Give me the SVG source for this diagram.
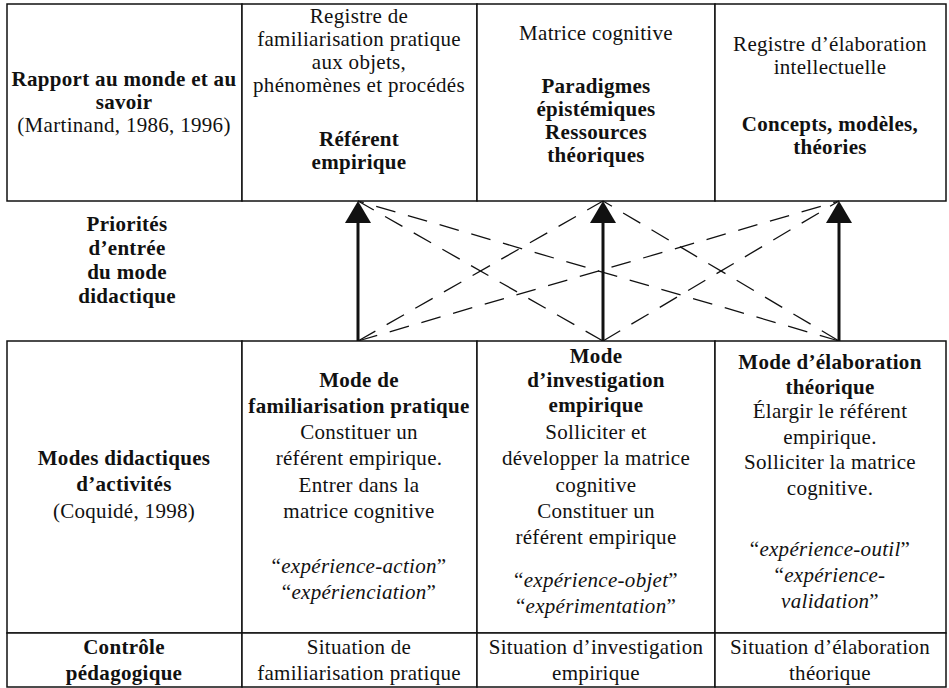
<svg xmlns="http://www.w3.org/2000/svg" width="949" height="688" viewBox="0 0 949 688">
<style>
text{font-family:"Liberation Serif","Times New Roman",serif;font-size:21px;letter-spacing:0.3px;fill:#111;text-anchor:middle}
.b{font-weight:bold}
.i{font-style:italic}
.cell{fill:#fff;stroke:#111;stroke-width:1.5}
.solid{stroke:#111;stroke-width:3;fill:none}
.dash{stroke:#111;stroke-width:1.3;fill:none;stroke-dasharray:20 13}
.head{fill:#111}
</style>
<rect width="949" height="688" fill="#fff"/>

<g id="top-table">
<rect class="cell" x="7" y="4" width="235" height="197"/>
<rect class="cell" x="242" y="4" width="235" height="197"/>
<rect class="cell" x="477" y="4" width="238" height="197"/>
<rect class="cell" x="715" y="4" width="231" height="197"/>
</g>

<g id="rapport">
<text class="b" x="124" y="86">Rapport au monde et au</text>
<text class="b" x="124" y="109">savoir</text>
<text x="124" y="132">(Martinand, 1986, 1996)</text>
</g>

<g id="referent">
<text x="359" y="23">Registre de</text>
<text x="359" y="46">familiarisation pratique</text>
<text x="359" y="69">aux objets,</text>
<text x="359" y="92">phénomènes et procédés</text>
<text class="b" x="359" y="146">Référent</text>
<text class="b" x="359" y="169">empirique</text>
</g>

<g id="matrice">
<text x="596" y="40">Matrice cognitive</text>
<text class="b" x="596" y="93">Paradigmes</text>
<text class="b" x="596" y="116">épistémiques</text>
<text class="b" x="596" y="139">Ressources</text>
<text class="b" x="596" y="162">théoriques</text>
</g>

<g id="registre">
<text x="830" y="51">Registre d’élaboration</text>
<text x="830" y="74">intellectuelle</text>
<text class="b" x="830" y="131">Concepts, modèles,</text>
<text class="b" x="830" y="154">théories</text>
</g>

<g id="priorites">
<text class="b" x="127" y="231">Priorités</text>
<text class="b" x="127" y="255">d’entrée</text>
<text class="b" x="127" y="279">du mode</text>
<text class="b" x="127" y="303">didactique</text>
</g>

<g id="connectors">
<line class="dash" x1="358" y1="341" x2="603" y2="201"/>
<line class="dash" x1="358" y1="341" x2="839" y2="201"/>
<line class="dash" x1="603" y1="341" x2="358" y2="201"/>
<line class="dash" x1="603" y1="341" x2="839" y2="201"/>
<line class="dash" x1="839" y1="341" x2="358" y2="201"/>
<line class="dash" x1="839" y1="341" x2="603" y2="201"/>
<line class="solid" x1="358" y1="341" x2="358" y2="220"/>
<polygon class="head" points="358,201 345,223 371,223"/>
<line class="solid" x1="603" y1="341" x2="603" y2="220"/>
<polygon class="head" points="603,201 590,223 616,223"/>
<line class="solid" x1="839" y1="341" x2="839" y2="220"/>
<polygon class="head" points="839,201 826,223 852,223"/>
</g>

<g id="bottom-table">
<rect class="cell" x="7" y="341" width="235" height="292"/>
<rect class="cell" x="242" y="341" width="235" height="292"/>
<rect class="cell" x="477" y="341" width="238" height="292"/>
<rect class="cell" x="715" y="341" width="231" height="292"/>
<rect class="cell" x="7" y="633" width="235" height="54"/>
<rect class="cell" x="242" y="633" width="235" height="54"/>
<rect class="cell" x="477" y="633" width="238" height="54"/>
<rect class="cell" x="715" y="633" width="231" height="54"/>
</g>

<g id="modes">
<text class="b" x="124" y="465">Modes didactiques</text>
<text class="b" x="124" y="491">d’activités</text>
<text x="124" y="518">(Coquidé, 1998)</text>
</g>

<g id="mode-familiarisation">
<text class="b" x="359" y="387">Mode de</text>
<text class="b" x="359" y="413">familiarisation pratique</text>
<text x="359" y="439">Constituer un</text>
<text x="359" y="465">référent empirique.</text>
<text x="359" y="492">Entrer dans la</text>
<text x="359" y="518">matrice cognitive</text>
<text x="359" y="573">“<tspan class="i">expérience-action</tspan>”</text>
<text x="359" y="599">“<tspan class="i">expérienciation</tspan>”</text>
</g>

<g id="mode-investigation">
<text class="b" x="596" y="363">Mode</text>
<text class="b" x="596" y="387">d’investigation</text>
<text class="b" x="596" y="412">empirique</text>
<text x="596" y="439">Solliciter et</text>
<text x="596" y="465">développer la matrice</text>
<text x="596" y="492">cognitive</text>
<text x="596" y="518">Constituer un</text>
<text x="596" y="544">référent empirique</text>
<text x="596" y="587">“<tspan class="i">expérience-objet</tspan>”</text>
<text x="596" y="613">“<tspan class="i">expérimentation</tspan>”</text>
</g>

<g id="mode-elaboration">
<text class="b" x="830" y="369">Mode d’élaboration</text>
<text class="b" x="830" y="394">théorique</text>
<text x="830" y="418">Élargir le référent</text>
<text x="830" y="444">empirique.</text>
<text x="830" y="469">Solliciter la matrice</text>
<text x="830" y="495">cognitive.</text>
<text x="830" y="556">“<tspan class="i">expérience-outil</tspan>”</text>
<text x="830" y="582">“<tspan class="i">expérience-</tspan></text>
<text x="830" y="608"><tspan class="i">validation</tspan>”</text>
</g>

<g id="controle">
<text class="b" x="124" y="654">Contrôle</text>
<text class="b" x="124" y="680">pédagogique</text>
</g>
<g id="situation-familiarisation">
<text x="359" y="654">Situation de</text>
<text x="359" y="680">familiarisation pratique</text>
</g>
<g id="situation-investigation">
<text x="596" y="654">Situation d’investigation</text>
<text x="596" y="680">empirique</text>
</g>
<g id="situation-elaboration">
<text x="830" y="654">Situation d’élaboration</text>
<text x="830" y="680">théorique</text>
</g>
</svg>
